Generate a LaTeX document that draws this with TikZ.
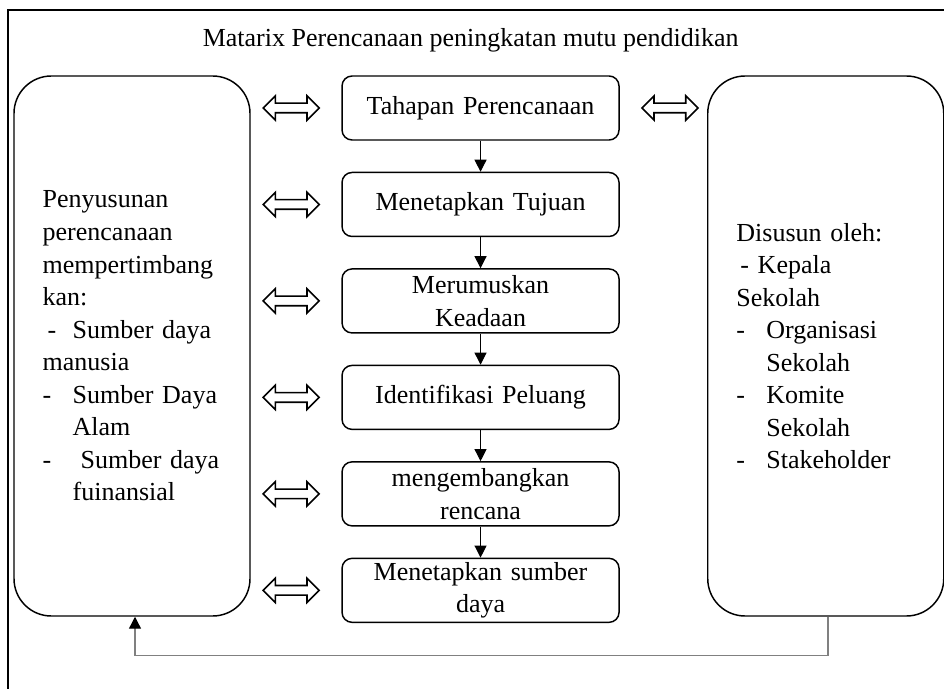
\documentclass[tikz,border=0pt]{standalone}
\usepackage{fontspec}
\setmainfont{Liberation Serif}
\usepackage{tikz}
\usetikzlibrary{arrows.meta,positioning,shapes.arrows}
\newcommand{\dashitem}{\makebox[22.5pt][l]{-}}

\begin{document}
\begin{tikzpicture}[
  x=1pt, y=1pt,
  node distance=23.25pt and 15.75pt,
  every node/.style={font=\fontsize{19.5}{24.4}\selectfont},
  stepbox/.style={draw, rounded corners=7.5pt, line width=1.1pt, minimum width=207.75pt,
              minimum height=48pt, text width=190pt, align=center, inner sep=2pt},
  sidebox/.style={draw, rounded corners=28pt, line width=1.1pt, minimum width=177pt,
              minimum height=405pt, text width=134pt, align=left, inner sep=0pt},
  both/.style={double arrow, draw, line width=1.2pt, minimum height=42pt, minimum width=17pt,
              double arrow head extend=5.5pt, inner sep=3pt},
  arr/.style={-{Triangle[length=9pt, width=9pt]}, line width=0.75pt},
  back/.style={-{Triangle[length=9pt, width=9pt, color=black]}, line width=1pt, color=black!50},
]
  \useasboundingbox (0,0) rectangle (708,-516);
  \begin{scope}
    \clip (0,0) rectangle (708,-516);
    \draw[line width=1.2pt] (6,-7.5) rectangle (730,-540);
  \end{scope}

  \node (title) at (353,-30) {Matarix Perencanaan peningkatan mutu pendidikan};

  \node[stepbox] (tahapan) at (360.4,-81) {Tahapan Perencanaan};
  \node[stepbox, below=of tahapan] (tujuan) {Menetapkan Tujuan};
  \node[stepbox, below=of tujuan] (keadaan) {Merumuskan\\Keadaan};
  \node[stepbox, below=of keadaan] (peluang) {Identifikasi Peluang};
  \node[stepbox, below=of peluang] (rencana) {mengembangkan\\rencana};
  \node[stepbox, below=of rencana] (sumber) {Menetapkan sumber\\daya};

  \node[sidebox] (pertimbang) at (99,-259.5) {Penyusunan\\perencanaan\\mempertimbang\\kan:\\
    \hspace*{3.75pt}\makebox[18.75pt][l]{-}Sumber daya\\manusia\\
    \dashitem Sumber Daya\\\hspace*{22.5pt}Alam\\
    \dashitem\hspace*{6pt}Sumber daya\\\hspace*{22.5pt}fuinansial};
  \node[sidebox] (penyusun) at (619.3,-259.5) {Disusun oleh:\\\hspace*{3pt}- Kepala\\Sekolah\\
    \dashitem Organisasi\\\hspace*{22.5pt}Sekolah\\
    \dashitem Komite\\\hspace*{22.5pt}Sekolah\\
    \dashitem Stakeholder};

  \node[both, left=of tahapan] (l1) {};
  \node[both, left=of tujuan] (l2) {};
  \node[both, left=of keadaan] (l3) {};
  \node[both, left=of peluang] (l4) {};
  \node[both, left=of rencana] (l5) {};
  \node[both, left=of sumber] (l6) {};
  \node[both, right=of tahapan] (r1) {};

  \draw[arr] (tahapan) -- (tujuan);
  \draw[arr] (tujuan) -- (keadaan);
  \draw[arr] (keadaan) -- (peluang);
  \draw[arr] (peluang) -- (rencana);
  \draw[arr] (rencana) -- (sumber);
  \draw[back] ([xshift=1.7pt]penyusun.south) -- ++(0,-29.25) -| ([xshift=2.25pt]pertimbang.south);
\end{tikzpicture}
\end{document}
